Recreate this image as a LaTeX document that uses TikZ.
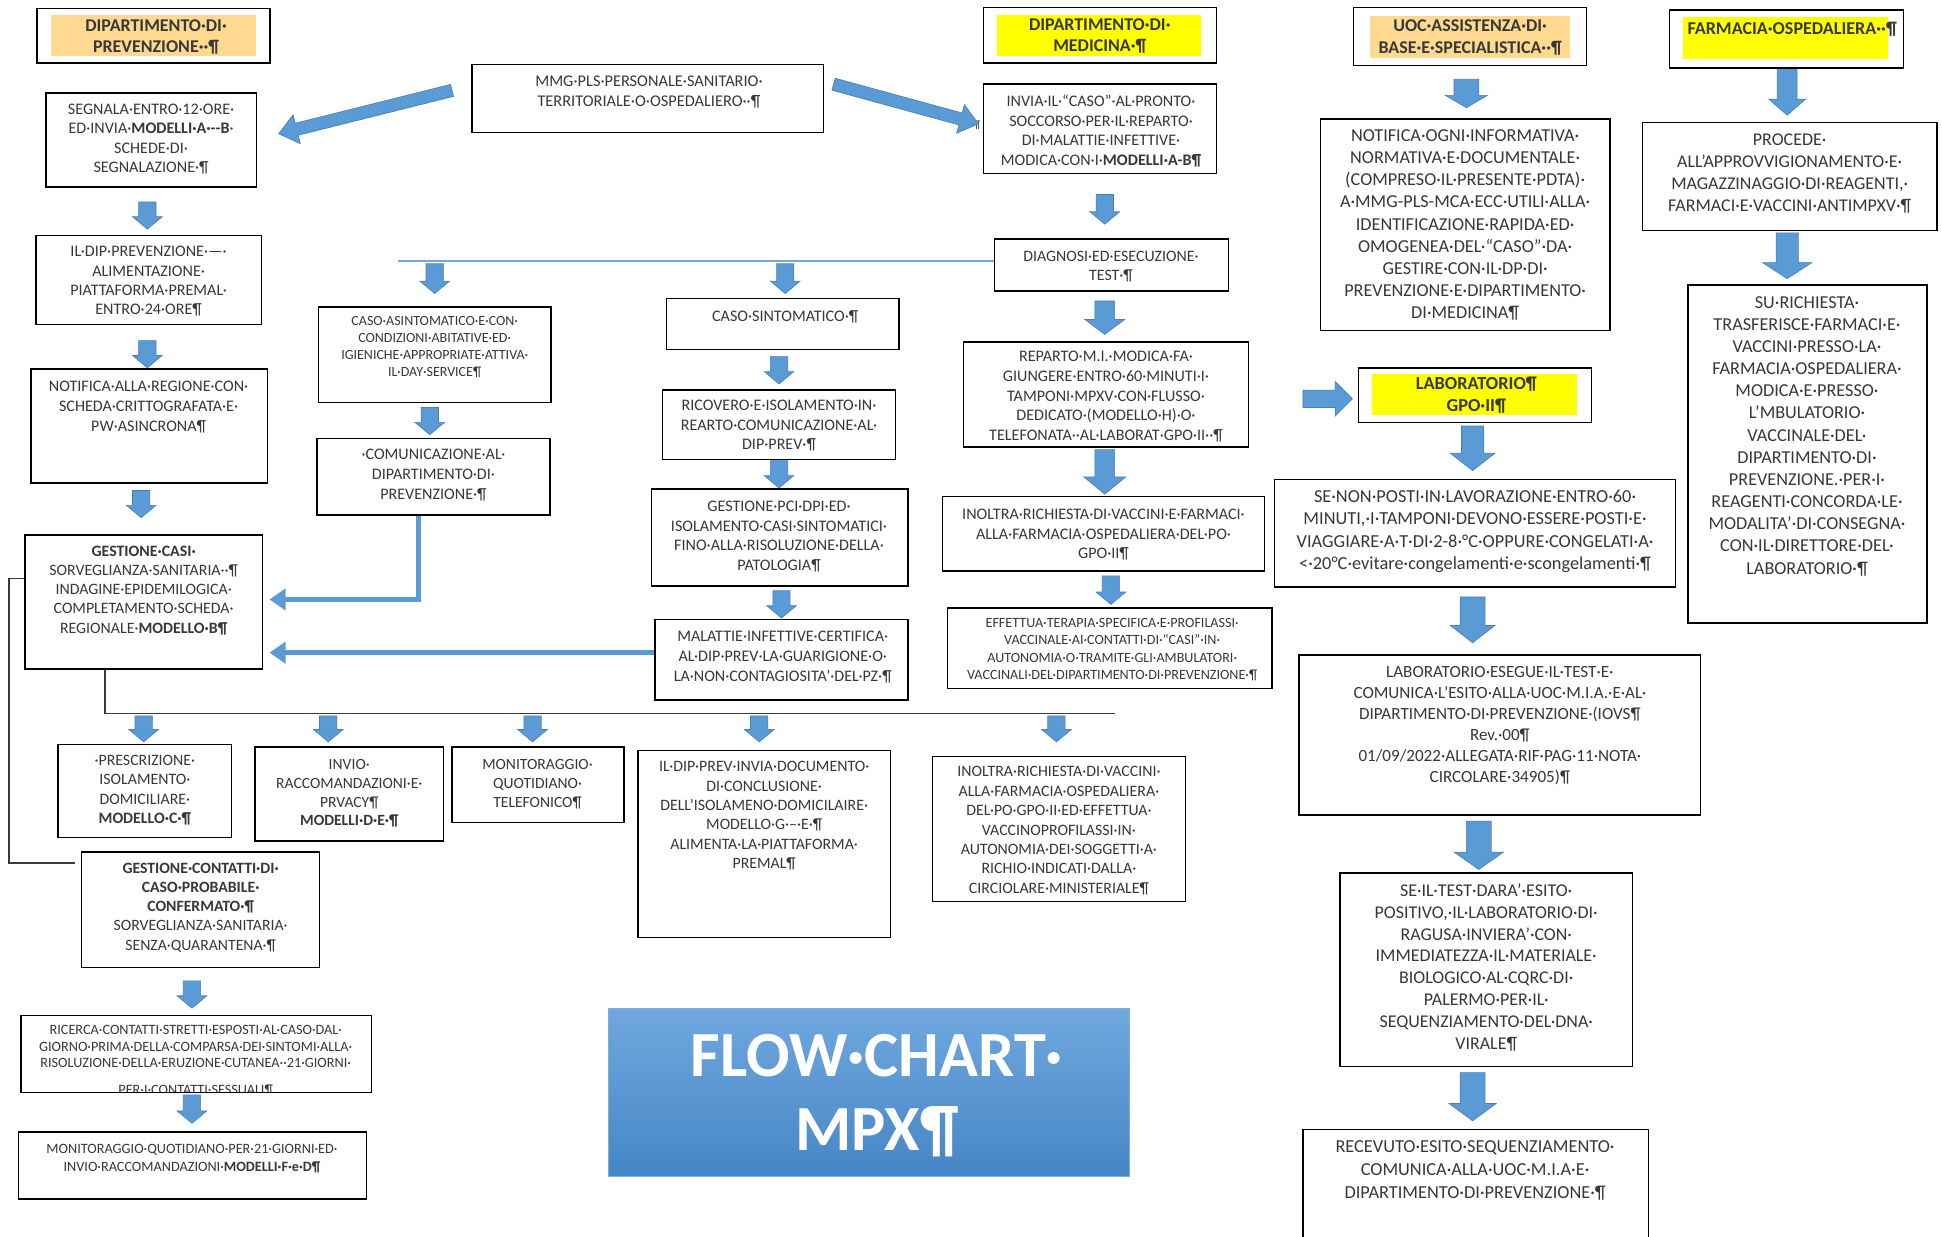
\documentclass[tikz,border=0pt]{standalone}
\usepackage{fontspec}
\setmainfont{Carlito}
\usetikzlibrary{calc,fit,arrows.meta}
\definecolor{arrblue}{HTML}{5B9BD5}
\definecolor{arredge}{HTML}{4A7EBB}
\definecolor{textc}{HTML}{383838}
\definecolor{hlorange}{HTML}{FFD990}
\definecolor{hlyellow}{HTML}{FFFF00}
\definecolor{linec}{HTML}{3A3A3A}
\definecolor{flowtop}{HTML}{70A8DE}
\definecolor{flowbot}{HTML}{4585C6}
\tikzset{
 boxst/.style={draw=black, line width=1.2pt, inner sep=0pt},
 txtst/.style={anchor=base, align=center, text width=440pt, inner sep=0pt, text=textc},
 arrst/.style={fill=arrblue, draw=arredge, line width=0.5pt},
 bluecon/.style={draw=arrblue, line width=4pt, -{Triangle[length=13pt,width=17pt]}},
 thinblue/.style={draw=arrblue!85!white, line width=1.6pt},
 darkl/.style={draw=linec, line width=1.4pt},
}
\newcommand\bx[5]{\node[boxst, fit={(#2,#3) (#4,#5)}] (#1) {};}
\newcommand\tx[6]{\node[txtst, font=\fontsize{#4}{#5}\selectfont] (#1) at (#2,#3) {#6};}
\newcommand\txb[6]{\node[txtst, font=\bfseries\fontsize{#4}{#5}\selectfont] (#1) at (#2,#3) {#6};}
\newcommand\barr[5]{%
 \coordinate (ba-n) at ($(#2)!#5pt!(#1)$);
 \filldraw[arrst] ($(#1)!#3pt!90:(#2)$) -- ($(ba-n)!#3pt!90:(#2)$) -- ($(ba-n)!#4pt!90:(#2)$) -- (#2) -- ($(ba-n)!#4pt!-90:(#2)$) -- ($(ba-n)!#3pt!-90:(#2)$) -- ($(#1)!#3pt!-90:(#2)$) -- cycle;}
\begin{document}
\begin{tikzpicture}[x=1pt,y=-1pt]
\fill[white] (0,0) rectangle (1568,998);
\useasboundingbox (0,0) rectangle (1568,998);

% ---------- headers ----------
\fill[hlorange] (41,12) rectangle (207,45);
\bx{hprev}{30}{7}{218}{51}
\txb{hprev-t}{126}{25.6}{14.5}{17}{DIPARTIMENTO·DI·\\PREVENZIONE··¶}

\fill[hlyellow] (805,12) rectangle (970,45);
\bx{hmed}{794}{6}{982}{51}
\txb{hmed-t}{888}{24.6}{14.5}{17}{DIPARTIMENTO·DI·\\MEDICINA·¶}

\fill[hlorange] (1106,13) rectangle (1268,47);
\bx{huoc}{1093}{6}{1281}{53}
\txb{huoc-t}{1187}{25.6}{14.5}{18}{UOC·ASSISTENZA·DI·\\BASE·E·SPECIALISTICA··¶}

\fill[hlyellow] (1359,14) rectangle (1524,48);
\bx{hfarm}{1348}{8}{1537}{55}
\txb{hfarm-t}{1447}{27.6}{14.6}{18}{FARMACIA·OSPEDALIERA··¶}

\fill[hlyellow] (1108,302) rectangle (1273,335);
\bx{hlab}{1097}{297}{1285}{341}
\txb{hlab-t}{1192}{314.6}{14.8}{18}{LABORATORIO¶\\GPO·II¶}

% ---------- left column ----------
\bx{segn}{37}{75}{207}{151}
\tx{segn-t}{122}{92.2}{13}{15.8}{SEGNALA·ENTRO·12·ORE·\\ED·INVIA·\textbf{MODELLI·A·-{}-B}·\\SCHEDE·DI·\\SEGNALAZIONE·¶}

\bx{ildip}{29}{190}{211}{262}
\tx{ildip-t}{120}{207.2}{13}{15.7}{IL·DIP·PREVENZIONE·—·\\ALIMENTAZIONE·\\PIATTAFORMA·PREMAL·\\ENTRO·24·ORE¶}

\bx{notreg}{25}{298}{216}{390}
\tx{notreg-t}{120}{316.2}{13}{16}{NOTIFICA·ALLA·REGIONE·CON·\\SCHEDA·CRITTOGRAFATA·E·\\PW·ASINCRONA¶}

\bx{gcasi}{20}{432}{212}{540}
\tx{gcasi-t}{116}{449.1}{12.8}{15.5}{\textbf{GESTIONE·CASI·}\\SORVEGLIANZA·SANITARIA··¶\\INDAGINE·EPIDEMILOGICA·\\COMPLETAMENTO·SCHEDA·\\REGIONALE·\textbf{MODELLO·B¶}}

% ---------- MMG ----------
\bx{mmg}{381}{52}{665}{107}
\tx{mmg-t}{524}{70.2}{13.2}{16}{MMG·PLS·PERSONALE·SANITARIO·\\TERRITORIALE·O·OSPEDALIERO··¶}

% ---------- middle ----------
\bx{asint}{257}{248}{445}{325}
\tx{asint-t}{351}{262.6}{11.3}{13.7}{CASO·ASINTOMATICO·E·CON·\\CONDIZIONI·ABITATIVE·ED·\\IGIENICHE·APPROPRIATE·ATTIVA·\\IL·DAY·SERVICE¶}

\bx{comm}{256}{354}{444}{416}
\tx{comm-t}{350}{371.2}{13}{16}{·COMUNICAZIONE·AL·\\DIPARTIMENTO·DI·\\PREVENZIONE·¶}

\bx{sint}{538}{241}{726}{282}
\tx{sint-t}{634}{259.2}{13}{16}{CASO·SINTOMATICO·¶}

\bx{ricov}{535}{315}{723}{371}
\tx{ricov-t}{629}{331.2}{13}{16}{RICOVERO·E·ISOLAMENTO·IN·\\REARTO·COMUNICAZIONE·AL·\\DIP·PREV·¶}

\bx{gpci}{526}{395}{733}{473}
\tx{gpci-t}{629}{413.2}{13}{15.7}{GESTIONE·PCI·DPI·ED·\\ISOLAMENTO·CASI·SINTOMATICI·\\FINO·ALLA·RISOLUZIONE·DELLA·\\PATOLOGIA¶}

\bx{malat}{529}{500}{733}{565}
\tx{malat-t}{632}{518.2}{13}{16}{MALATTIE·INFETTIVE·CERTIFICA·\\AL·DIP·PREV·LA·GUARIGIONE·O·\\LA·NON·CONTAGIOSITA’·DEL·PZ·¶}

% ---------- medicina column ----------
\bx{invia}{794}{68}{982}{140}
\tx{invia-t}{889}{86.2}{13}{15.7}{INVIA·IL·“CASO”·AL·PRONTO·\\SOCCORSO·PER·IL·REPARTO·\\DI·MALATTIE·INFETTIVE·\\MODICA·CON·I·\textbf{MODELLI·A-B¶}}
\node[text=textc, inner sep=0pt, font=\fontsize{9}{10}\selectfont] (pil) at (789,101) {¶};

\bx{diag}{803}{193}{992}{235}
\tx{diag-t}{897}{211.1}{12.8}{15.5}{DIAGNOSI·ED·ESECUZIONE·\\TEST·¶}

\bx{repa}{778}{276}{1008}{361}
\tx{repa-t}{893}{292.2}{13}{15.8}{REPARTO·M.I.·MODICA·FA·\\GIUNGERE·ENTRO·60·MINUTI·I·\\TAMPONI·MPXV·CON·FLUSSO·\\DEDICATO·(MODELLO·H)·O·\\TELEFONATA··AL·LABORAT·GPO·II··¶}

\bx{inol1}{761}{401}{1021}{461}
\tx{inol1-t}{891}{419.2}{13}{16}{INOLTRA·RICHIESTA·DI·VACCINI·E·FARMACI·\\ALLA·FARMACIA·OSPEDALIERA·DEL·PO·\\GPO·II¶}

\bx{effet}{765}{491}{1027}{556}
\tx{effet-t}{898}{506.6}{11.4}{14}{EFFETTUA·TERAPIA·SPECIFICA·E·PROFILASSI·\\VACCINALE·AI·CONTATTI·DI·“CASI”·IN·\\AUTONOMIA·O·TRAMITE·GLI·AMBULATORI·\\VACCINALI·DEL·DIPARTIMENTO·DI·PREVENZIONE·¶}

% ---------- UOC / lab column ----------
\bx{uocn}{1066}{96}{1300}{267}
\tx{uocn-t}{1183}{114.2}{14.7}{17.9}{NOTIFICA·OGNI·INFORMATIVA·\\NORMATIVA·E·DOCUMENTALE·\\(COMPRESO·IL·PRESENTE·PDTA)·\\A·MMG-PLS-MCA·ECC·UTILI·ALLA·\\IDENTIFICAZIONE·RAPIDA·ED·\\OMOGENEA·DEL·“CASO”·DA·\\GESTIRE·CON·IL·DP·DI·\\PREVENZIONE·E·DIPARTIMENTO·\\DI·MEDICINA¶}

\bx{senon}{1029}{387}{1353}{474}
\tx{senon-t}{1191}{405.7}{14.8}{18}{SE·NON·POSTI·IN·LAVORAZIONE·ENTRO·60·\\MINUTI,·I·TAMPONI·DEVONO·ESSERE·POSTI·E·\\VIAGGIARE·A·T·DI·2-8·°C·OPPURE·CONGELATI·A·\\<·20°C·evitare·congelamenti·e·scongelamenti·¶}

\bx{labes}{1049}{529}{1373}{658}
\tx{labes-t}{1211}{547.4}{13.8}{16.8}{LABORATORIO·ESEGUE·IL·TEST·E·\\COMUNICA·L’ESITO·ALLA·UOC·M.I.A.·E·AL·\\DIPARTIMENTO·DI·PREVENZIONE·(IOVS¶\\Rev.·00¶\\01/09/2022·ALLEGATA·RIF·PAG·11·NOTA·\\CIRCOLARE·34905)¶}

\bx{seil}{1082}{705}{1318}{861}
\tx{seil-t}{1200}{723.6}{14.5}{17.7}{SE·IL·TEST·DARA’·ESITO·\\POSITIVO,·IL·LABORATORIO·DI·\\RAGUSA·INVIERA’·CON·\\IMMEDIATEZZA·IL·MATERIALE·\\BIOLOGICO·AL·CQRC·DI·\\PALERMO·PER·IL·\\SEQUENZIAMENTO·DEL·DNA·\\VIRALE¶}

\bx{recev}{1052}{912}{1331}{1010}
\tx{recev-t}{1191}{930.7}{14.8}{18.5}{RECEVUTO·ESITO·SEQUENZIAMENTO·\\COMUNICA·ALLA·UOC·M.I.A·E·\\DIPARTIMENTO·DI·PREVENZIONE·¶}

% ---------- farmacia column ----------
\bx{proc}{1326}{99}{1564}{186}
\tx{proc-t}{1445}{117.6}{14.5}{17.7}{PROCEDE·\\ALL’APPROVVIGIONAMENTO·E·\\MAGAZZINAGGIO·DI·REAGENTI,·\\FARMACI·E·VACCINI·ANTIMPXV·¶}

\bx{surich}{1363}{230}{1556}{503}
\tx{surich-t}{1459}{248.7}{14.7}{17.9}{SU·RICHIESTA·\\TRASFERISCE·FARMACI·E·\\VACCINI·PRESSO·LA·\\FARMACIA·OSPEDALIERA·\\MODICA·E·PRESSO·\\L’MBULATORIO·\\VACCINALE·DEL·\\DIPARTIMENTO·DI·\\PREVENZIONE.·PER·I·\\REAGENTI·CONCORDA·LE·\\MODALITA’·DI·CONSEGNA·\\CON·IL·DIRETTORE·DEL·\\LABORATORIO·¶}

% ---------- bottom row ----------
\bx{presc}{47}{601}{187}{676}
\tx{presc-t}{117}{618.1}{12.8}{15.7}{·PRESCRIZIONE·\\ISOLAMENTO·\\DOMICILIARE·\\\textbf{MODELLO·C·¶}}

\bx{invio}{206}{603}{358}{679}
\tx{invio-t}{282}{621}{12.6}{15.3}{INVIO·\\RACCOMANDAZIONI·E·\\PRVACY¶\\\textbf{MODELLI·D·E·¶}}

\bx{monit}{365}{603}{504}{664}
\tx{monit-t}{434}{621}{12.6}{15.5}{MONITORAGGIO·\\QUOTIDIANO·\\TELEFONICO¶}

\bx{ildip2}{515}{606}{719}{757}
\tx{ildip2-t}{617}{623.1}{12.8}{15.6}{IL·DIP·PREV·INVIA·DOCUMENTO·\\DI·CONCLUSIONE·\\DELL’ISOLAMENO·DOMICILAIRE·\\MODELLO·G·–·E·¶\\ALIMENTA·LA·PIATTAFORMA·\\PREMAL¶}

\bx{inol2}{753}{611}{957}{728}
\tx{inol2-t}{855}{627.1}{12.8}{15.7}{INOLTRA·RICHIESTA·DI·VACCINI·\\ALLA·FARMACIA·OSPEDALIERA·\\DEL·PO·GPO·II·ED·EFFETTUA·\\VACCINOPROFILASSI·IN·\\AUTONOMIA·DEI·SOGGETTI·A·\\RICHIO·INDICATI·DALLA·\\CIRCIOLARE·MINISTERIALE¶}

\bx{gcont}{66}{688}{258}{781}
\tx{gcont-t}{162}{705.1}{12.7}{15.5}{\textbf{GESTIONE·CONTATTI·DI·}\\\textbf{CASO·PROBABILE·}\\\textbf{CONFERMATO·¶}\\SORVEGLIANZA·SANITARIA·\\SENZA·QUARANTENA·¶}

\bx{ricer}{17}{820}{300}{882}
\begin{scope}
\clip (17,820) rectangle (300,881.4);
\tx{ricer-t}{158}{835.5}{11.5}{13.4}{RICERCA·CONTATTI·STRETTI·ESPOSTI·AL·CASO·DAL·\\GIORNO·PRIMA·DELLA·COMPARSA·DEI·SINTOMI·ALLA·\\RISOLUZIONE·DELLA·ERUZIONE·CUTANEA··21·GIORNI·\\[8pt]PER·I·CONTATTI·SESSUALI¶}
\end{scope}

\bx{monq}{15}{914}{296}{968}
\tx{monq-t}{155}{931.7}{11.5}{14}{MONITORAGGIO·QUOTIDIANO·PER·21·GIORNI·ED·\\INVIO·RACCOMANDAZIONI·\textbf{MODELLI·F·e·D¶}}

% ---------- title ----------
\node[fit={(491,814) (912,950)}, inner sep=0pt, top color=flowtop, bottom color=flowbot, draw=arrblue!80!white, line width=0.6pt] (flow) {};
\node[txtst, text=white, font=\bfseries\fontsize{52}{60}\selectfont] (flow-t) at (708,869) {FLOW·CHART·\\MPX¶};

% ---------- block arrows ----------
\barr{365,73}{225,108}{5}{12}{15}
\barr{673,68}{790,100}{5}{12}{15}
\barr{119,163}{119,185}{7}{12}{10}
\barr{119,275}{119,297}{7}{12}{10}
\barr{114,396}{114,418}{7}{12}{10}
\barr{351,213}{351,237}{7}{12}{10}
\barr{634,213}{634,237}{7}{12}{10}
\barr{892,157}{892,181}{7}{12}{10}
\barr{892,243}{892,270}{8}{16}{12}
\barr{629,288}{629,310}{7}{12}{10}
\barr{347,329}{347,351}{7}{12}{10}
\barr{629,372}{629,394}{7}{12}{10}
\barr{892,363}{892,399}{8}{17}{14}
\barr{631,477}{631,499}{7}{12}{10}
\barr{897,465}{897,488}{7}{12}{10}
\barr{1184,64}{1184,87}{10}{17}{10}
\barr{1443,56}{1443,93}{8}{15}{13}
\barr{1443,188}{1443,225}{9}{20}{13}
\barr{1189,344}{1189,380}{9}{18}{14}
\barr{1189,482}{1189,519}{10}{18}{14}
\barr{1194,663}{1194,702}{10}{20}{14}
\barr{1189,866}{1189,905}{10}{19}{14}
\barr{116,578}{116,599}{7}{12}{10}
\barr{265,578}{265,599}{7}{12}{10}
\barr{430,578}{430,599}{7}{12}{10}
\barr{613,578}{613,599}{7}{12}{10}
\barr{853,578}{853,599}{7}{12}{10}
\barr{155,792}{155,814}{7}{12}{10}
\barr{155,884}{155,907}{7}{12}{10}
\barr{1052,322}{1092,322}{7}{14}{14}

% ---------- connectors ----------
\coordinate (tl) at (321,211);
\draw[thinblue] (tl) -- (tl -| diag.west);

\draw[bluecon] ([xshift=-12pt]comm.south) |- ([xshift=5pt,yshift=2pt]gcasi.east);
\coordinate (mw) at ([yshift=5.5pt]malat.west);
\coordinate (ge) at ([xshift=5pt]gcasi.east);
\draw[bluecon] (mw) -- (mw -| ge);

\coordinate (brend) at (900,576);
\draw[darkl] ([xshift=-31pt]gcasi.south) |- (brend);
\coordinate (brk) at (7,697);
\draw[darkl] ([yshift=19pt]gcasi.west) -| (brk) -- ([xshift=-5pt,yshift=37.5pt]gcont.west);
\end{tikzpicture}
\end{document}
